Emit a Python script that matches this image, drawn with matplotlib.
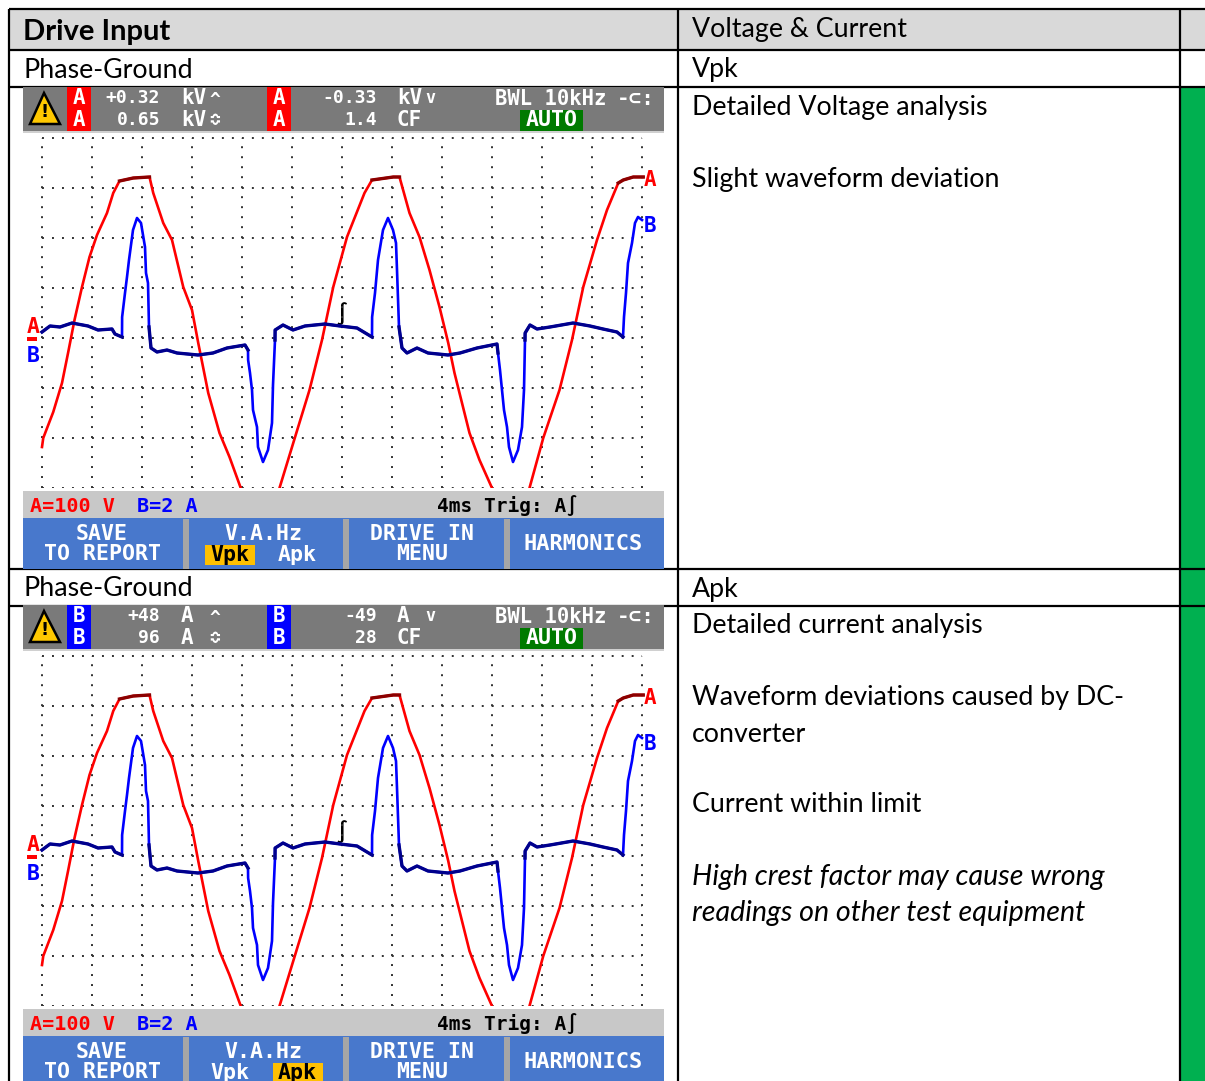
import numpy as np
import matplotlib
matplotlib.use('Agg')
import matplotlib.pyplot as plt
from matplotlib.patches import Rectangle, Polygon

W, H = 1205, 1081

# channel A, volts against ms
a_t = [0, 0.1, 0.9, 1.6, 2.1, 2.6, 3.2, 3.8, 4.4, 5.2, 5.7, 6.2, 7.3, 8.6, 8.9, 9.7, 10.4, 11.3, 12.0, 12.5,
       13.3, 14.2, 15.0, 15.9, np.nan,
       19.0, 20.1, 21.4, 22.4, 23.3, 24.4, 25.8, 26.4, 28.1, 28.6, 29.4, 30.2, 31.0, 31.8, 32.5,
       33.0, 33.6, 34.2, 35.0, 36.0, np.nan,
       39.0, 40.1, 41.4, 42.4, 43.3, 44.4, 45.2, 46.1, 46.5, 47.3, 48.1]
a_v = [-218, -200, -148, -90, -28, 36, 102, 162, 206, 250, 290, 314, 320, 322, 290, 230, 196, 102, 56, -10,
       -110, -190, -238, -300, np.nan,
       -300, -210, -104, -4, 102, 202, 290, 316, 322, 322, 250, 202, 136, 62, -10,
       -70, -130, -190, -244, -300, np.nan,
       -300, -200, -104, -4, 102, 196, 256, 310, 316, 322, 322]

# channel B, amps against ms
b_t = [0, 0.64, 1.44, 2.4, 3.68, 4.48, 5.6, 5.84, 6.4, 6.41, 6.64, 6.8, 6.96, 7.28, 7.6, 7.92, 8.24, 8.32, 8.48,
       8.56, 8.72, 9.2, 10, 10.8, 12.48, 13.68, 14.8, 16.24, 16.48, 16.49, 16.64, 16.8, 16.88, 17.2, 17.28,
       17.68, 18.08, 18.4, 18.48, 18.64, 18.65, 19.28, 20.08, 21.04, 22.64, 23.84, 25.2, 26.4, 26.41, 26.64,
       26.88, 27.28, 27.68, 28.08, 28.32, 28.4, 28.56, 28.8, 29.2, 30, 30.88, 32.48, 33.44, 34.8, 36.4, 36.48,
       36.64, 36.8, 36.96, 37.2, 37.36, 37.68, 38.08, 38.4, 38.56, 38.64, 38.65, 39.04, 39.6, 40.64, 42.48,
       43.84, 44.88, 46, 46.48, 46.56, 46.72, 46.88, 47.2, 47.44, 47.68, 48]
b_i = [0.24, 0.48, 0.44, 0.6, 0.48, 0.32, 0.36, 0.16, 0.04, 0.84, 1.8, 2.44, 3.12, 4.32, 4.8, 4.6, 3.64, 2.6, 2.2,
       0.44, -0.4, -0.56, -0.48, -0.6, -0.68, -0.6, -0.4, -0.28, -0.48, -0.88, -1.4, -2.08, -2.88, -3.56, -4.36,
       -4.96, -4.48, -3.4, -1.88, -0.08, 0.32, 0.52, 0.32, 0.48, 0.56, 0.48, 0.4, 0.04, 0.84, 1.8,
       3.12, 4.32, 4.8, 4.32, 3.8, 2.72, 0.44, -0.4, -0.6, -0.4, -0.6, -0.68, -0.6, -0.4, -0.24, -0.6,
       -1.28, -2.08, -2.88, -3.56, -4.36, -4.96, -4.48, -3.56, -2.08, -0.08, 0.2, 0.52, 0.36, 0.44, 0.6,
       0.48, 0.36, 0.24, 0.04, 0.84, 1.8, 3, 3.8, 4.6, 4.84, 4.72]

grid_t = [0, 4, 8, 12, 16, 20, 24, 28, 32, 36, 40, 44, 48]
grid_v = [400, 300, 200, 100, 0, -100, -200, -300]

header_cols = ['Drive Input', 'Voltage & Current']
right_top = ['Detailed Voltage analysis', 'Slight waveform deviation']
right_bottom = ['Detailed current analysis', 'Waveform deviations caused by DC-', 'converter', 'Current within limit']
right_italic = ['High crest factor may cause wrong', 'readings on other test equipment']

BODY = 'Lato'
MONO = 'DejaVu Sans Mono'
GREY = '#7a7a7a'
BTN = '#4878cc'
SEP = '#a6a6a6'
BAND = '#c8c8c8'
RED = '#ff0000'
BLUE = '#0000ff'
a_t = np.array(a_t, dtype=float)
a_v = np.array(a_v, dtype=float)
b_t = np.array(b_t, dtype=float)
b_i = np.array(b_i, dtype=float)

fig = plt.figure(figsize=(W / 100, H / 100), dpi=100)
page = fig.add_axes([0, 0, 1, 1])
page.set_xlim(0, W)
page.set_ylim(H, 0)
page.axis('off')


def box(x0, y0, x1, y1, color, z=1):
    page.add_patch(Rectangle((x0, y0), x1 - x0, y1 - y0, facecolor=color, edgecolor='none', zorder=z))


def mono(x, y, s, color='white', size=15.5, ha='center'):
    page.text(x, y, s, color=color, fontsize=size, family=MONO, fontweight='bold', ha=ha, va='center', zorder=6)


def body(x, y, s, **kw):
    page.text(x, y, s, fontsize=kw.pop('size', 19.3), family=BODY, color='black', ha='left', va='center', zorder=6, **kw)


def scope(dy, chan, chan_color, top, low, unit, top2, low2, unit2, vpk_on):
    # screen furniture
    box(23, 87 + dy, 664, 131 + dy, GREY, 2)
    box(23, 131 + dy, 664, 133 + dy, '#d0d0d0', 2)
    box(23, 491 + dy, 664, 518 + dy, BAND, 2)
    box(23, 518 + dy, 664, 569 + dy, BTN, 2)
    for sx in (183, 343, 504):
        box(sx, 519 + dy, sx + 6, 569 + dy, SEP, 3)
    page.add_patch(Polygon([(44, 93 + dy), (30, 124 + dy), (60, 124 + dy)], closed=True, facecolor='#ffc800',
                           edgecolor='black', linewidth=1.8, zorder=4))
    page.text(44.5, 112 + dy, '!', fontsize=13, fontweight='bold', color='black', ha='center', va='center', zorder=6)
    for bx in (67, 267):
        box(bx, 87 + dy, bx + 24, 131 + dy, chan_color, 3)
        mono(bx + 12, 98 + dy, chan, size=15)
        mono(bx + 12, 120 + dy, chan, size=15)
    mono(160, 98 + dy, top, size=13, ha='right')
    mono(160, 120 + dy, low, size=13, ha='right')
    mono(181, 98 + dy, unit, size=15, ha='left')
    mono(181, 120 + dy, unit, size=15, ha='left')
    mono(209, 100 + dy, '^', size=13, ha='left')
    mono(209, 120 + dy, '\u224e', size=13, ha='left')
    mono(377, 98 + dy, top2, size=13, ha='right')
    mono(377, 120 + dy, low2, size=13, ha='right')
    mono(397, 98 + dy, unit, size=15, ha='left')
    mono(397, 120 + dy, unit2, size=15, ha='left')
    mono(425, 98 + dy, 'v', size=12, ha='left')
    mono(495, 99 + dy, 'BWL 10kHz', ha='left', size=14.8)
    mono(636, 99 + dy, '-\u2282:', size=15)
    box(520, 110 + dy, 583, 131 + dy, '#007a00', 3)
    mono(552, 120 + dy, 'AUTO', size=15.5)

    mono(30, 506 + dy, 'A=100 V', color=RED, ha='left', size=14.5)
    mono(137, 506 + dy, 'B=2 A', color=BLUE, ha='left', size=14.5)
    mono(437, 506 + dy, '4ms Trig: A\u222b', color='black', ha='left', size=14)
    mono(102, 534 + dy, 'SAVE')
    mono(102, 554 + dy, 'TO REPORT')
    mono(263, 534 + dy, 'V.A.Hz')
    hx = (205, 255) if vpk_on else (273, 323)
    box(hx[0], 545 + dy, hx[1], 565 + dy, '#ffc000', 3)
    mono(230, 555 + dy, 'Vpk', color='black' if vpk_on else 'white')
    mono(297, 555 + dy, 'Apk', color='white' if vpk_on else 'black')
    mono(422, 534 + dy, 'DRIVE IN')
    mono(422, 554 + dy, 'MENU')
    mono(583, 544 + dy, 'HARMONICS', size=15.8)

    # traces, A and B sharing the time axis at 100 V/div and 2 A/div
    ax = fig.add_axes([23 / W, 1 - (488 + dy) / H, 641 / W, 357 / H], zorder=3)
    ax.patch.set_visible(False)
    ax.axis('off')
    ax.set_xlim(-1.52, 49.76)
    ax.set_ylim(-300, 414)
    dots = (0, (1, 4.14))
    ax.hlines(grid_v, 0, 48, colors='#303030', linewidth=1.4, linestyles=[dots])
    ax.vlines(grid_t, -300, 400, colors='#303030', linewidth=1.4, linestyles=[dots])
    ax.plot(a_t, a_v, color=RED, linewidth=1.9, zorder=3)
    ax.plot(a_t, np.where(a_v > 305, a_v, np.nan), color='#8b0000', linewidth=2.4, zorder=4)
    axb = ax.twinx()
    axb.axis('off')
    axb.set_ylim(-6, 8.28)
    axb.plot(b_t, b_i, color=BLUE, linewidth=1.9, zorder=3)
    axb.plot(b_t, np.where(np.abs(b_i) < 0.7, b_i, np.nan), color='#00008c', linewidth=2.4, zorder=4)

    mono(650, 180 + dy, 'A', color=RED, size=15)
    mono(650, 226 + dy, 'B', color=BLUE, size=15)
    mono(33, 327 + dy, 'A', color=RED, size=15.5)
    box(27, 337 + dy, 37, 341 + dy, RED, 5)
    mono(33, 356 + dy, 'B', color=BLUE, size=15.5)
    mono(342, 314 + dy, '\u222b', color='black', size=15)


# table
box(10, 10, W, 50, '#d9d9d9')
box(1181, 88, W, H, '#00b050')
for y in (9, 50, 87, 569, 606):
    page.plot([9, W], [y, y], color='black', linewidth=1.6, zorder=2, solid_capstyle='butt')
for x in (9, 678, 1180):
    page.plot([x, x], [9, H], color='black', linewidth=1.6, zorder=2, solid_capstyle='butt')

body(23, 32, header_cols[0], size=21, fontweight='bold')
body(692, 30, header_cols[1])
body(23, 70, 'Phase-Ground')
body(692, 70, 'Vpk')
body(692, 108, right_top[0])
body(692, 179, right_top[1])
body(23, 589, 'Phase-Ground')
body(692, 589, 'Apk')
body(692, 626, right_bottom[0])
body(692, 698, right_bottom[1])
body(692, 734, right_bottom[2])
body(692, 805, right_bottom[3])
body(692, 877, right_italic[0], style='italic', size=20.6)
body(692, 913, right_italic[1], style='italic', size=20.6)

scope(0, 'A', RED, '+0.32', '0.65', 'kV', '-0.33', '1.4', 'CF', True)
scope(518, 'B', BLUE, '+48', '96', 'A', '-49', '28', 'CF', False)

fig.savefig('out.png', dpi=100)
